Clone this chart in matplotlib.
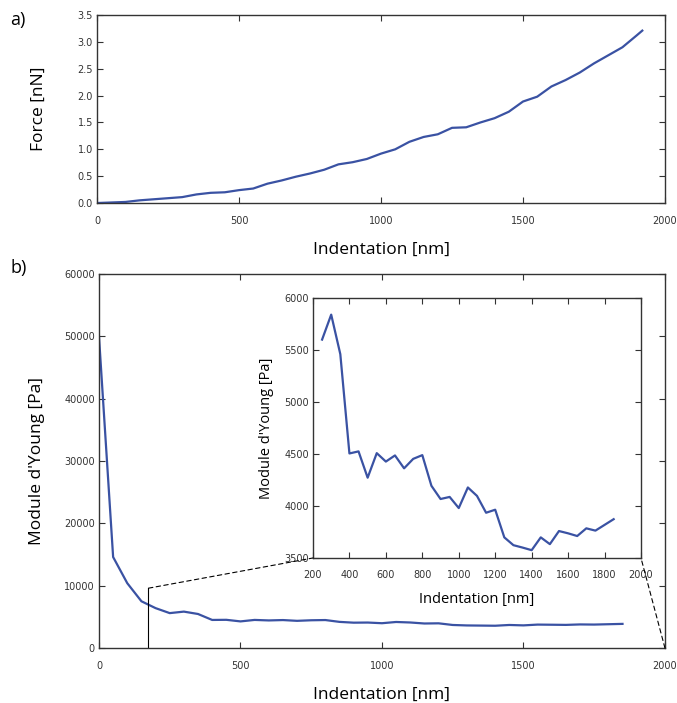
import matplotlib
matplotlib.use("Agg")
import matplotlib.pyplot as plt
from matplotlib.patches import ConnectionPatch

# force curve (nm, nN)
force_x = [0, 50, 100, 150, 200, 250, 300, 350, 400, 450, 500, 550, 600, 650,
           700, 750, 800, 850, 900, 950, 1000, 1050, 1100, 1150, 1200, 1250,
           1300, 1350, 1400, 1450, 1500, 1550, 1600, 1650, 1700, 1750, 1800,
           1850, 1900, 1920]
force_y = [0.00, 0.01, 0.02, 0.05, 0.07, 0.09, 0.11, 0.16, 0.19, 0.20, 0.24,
           0.27, 0.36, 0.42, 0.49, 0.55, 0.62, 0.72, 0.76, 0.82, 0.92, 1.00,
           1.14, 1.23, 1.28, 1.40, 1.41, 1.50, 1.58, 1.70, 1.89, 1.98, 2.17,
           2.29, 2.43, 2.60, 2.75, 2.90, 3.12, 3.21]

# Young's modulus vs indentation (nm, Pa)
young_x = list(range(0, 1851, 50))
young_y = [50000, 14600, 10400, 7500, 6400,
           5600, 5840, 5460, 4505, 4525, 4272, 4508, 4427, 4486, 4362, 4453,
           4489, 4194, 4067, 4087, 3980, 4178, 4097, 3935, 3964, 3698, 3623,
           3600, 3575, 3698, 3633, 3759, 3737, 3711, 3785, 3763, 3818, 3873]

zoom_start = 250   # first point shown in the inset
zoom_mark = 175    # position of the marker line on the main plot

blue = "#3a52a3"
dark = "#333333"
label_font = "Open Sans"

plt.rcParams["axes.edgecolor"] = dark
plt.rcParams["axes.linewidth"] = 1.0


def style_axes(ax, xpad=9, ypad=3, size=7):
    ax.tick_params(direction="in", top=True, right=True, length=4,
                   width=0.8, color=dark, labelsize=size, labelcolor=dark)
    ax.tick_params(axis="x", pad=xpad)
    ax.tick_params(axis="y", pad=ypad)


fig = plt.figure(figsize=(6.77, 7.03), dpi=100)

# a) force
ax1 = fig.add_axes([0.1433, 0.7112, 0.839, 0.2674])
ax1.plot(force_x, force_y, color=blue, lw=1.6)
ax1.set_xlim(0, 2000)
ax1.set_ylim(0, 3.5)
ax1.set_xticks([0, 500, 1000, 1500, 2000])
ax1.set_yticks([0, 0.5, 1.0, 1.5, 2.0, 2.5, 3.0, 3.5])
ax1.set_yticklabels(["0.0", "0.5", "1.0", "1.5", "2.0", "2.5", "3.0", "3.5"])
style_axes(ax1)
ax1.set_xlabel("Indentation [nm]", family=label_font, fontsize=12.5, labelpad=12)
ax1.set_ylabel("Force [nN]", family=label_font, fontsize=12.5, labelpad=22)

# b) Young's modulus
ax2 = fig.add_axes([0.1462, 0.0782, 0.836, 0.532])
ax2.plot(young_x, young_y, color=blue, lw=1.6)
ax2.set_xlim(0, 2000)
ax2.set_ylim(0, 60000)
ax2.set_xticks([0, 500, 1000, 1500, 2000])
ax2.set_yticks(range(0, 60001, 10000))
style_axes(ax2)
ax2.set_xlabel("Indentation [nm]", family=label_font, fontsize=12.5, labelpad=12)
ax2.set_ylabel("Module d'Young [Pa]", family=label_font, fontsize=12.5, labelpad=14)

# inset: zoom on the plateau
ins = fig.add_axes([0.4623, 0.2063, 0.4845, 0.3698])
ins_x = [x for x in young_x if x >= zoom_start]
ins_y = [y for x, y in zip(young_x, young_y) if x >= zoom_start]
ins.plot(ins_x, ins_y, color=blue, lw=1.6)
ins.set_xlim(200, 2000)
ins.set_ylim(3500, 6000)
ins.set_xticks(range(200, 2001, 200))
ins.set_yticks(range(3500, 6001, 500))
style_axes(ins)
ins.set_xlabel("Indentation [nm]", family=label_font, fontsize=10.5, labelpad=8)
ins.set_ylabel("Module d'Young [Pa]", family=label_font, fontsize=10.5, labelpad=7)

# marker line and dashed connectors to the inset
mark_top = 9600
ax2.plot([zoom_mark, zoom_mark], [0, mark_top], color="black", lw=0.8)
con1 = ConnectionPatch(xyA=(zoom_mark, mark_top), coordsA=ax2.transData,
                       xyB=(200, 3500), coordsB=ins.transData,
                       color="black", lw=0.8, linestyle=(0, (4, 3)))
con2 = ConnectionPatch(xyA=(2000, 0), coordsA=ax2.transData,
                       xyB=(2000, 3500), coordsB=ins.transData,
                       color="black", lw=0.8, linestyle=(0, (4, 3)))
fig.add_artist(con1)
fig.add_artist(con2)

fig.text(0.015, 0.972, "a)", family=label_font, fontsize=13, va="center")
fig.text(0.015, 0.619, "b)", family=label_font, fontsize=13, va="center")

fig.savefig("out.png", dpi=100)
